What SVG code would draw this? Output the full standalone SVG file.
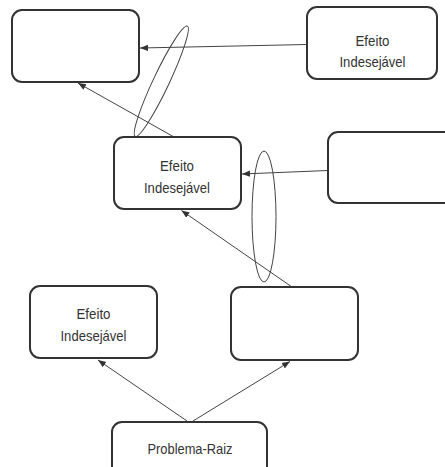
<svg xmlns="http://www.w3.org/2000/svg" width="445" height="467" viewBox="0 0 445 467">
  <style>
    .box { fill: #fff; stroke: #333; stroke-width: 2; }
    .lbl { font-family: "Liberation Sans", Arial, sans-serif; font-size: 14.5px; fill: #333; text-anchor: middle; }
    .edge { fill: none; stroke: #444; stroke-width: 1; }
    .and { fill: none; stroke: #444; stroke-width: 1; }
  </style>
  <defs>
    <marker id="arrow" markerUnits="userSpaceOnUse" markerWidth="8" markerHeight="8" viewBox="0 0 8 8" refX="8" refY="4" orient="auto">
      <path d="M0,0.8 L8,4 L0,7.2 Z" fill="#333"/>
    </marker>
  </defs>

  <rect width="445" height="467" fill="#fff"/>

  <!-- connectors -->
  <g id="connectors">
    <path class="edge" d="M307,44.5 L140,48" marker-end="url(#arrow)"/>
    <path class="edge" d="M174,137 L78,83" marker-end="url(#arrow)"/>
    <path class="edge" d="M328,170.5 L242,174" marker-end="url(#arrow)"/>
    <path class="edge" d="M292,287 L181.5,210.5" marker-end="url(#arrow)"/>
    <path class="edge" d="M187,421 L98,360" marker-end="url(#arrow)"/>
    <path class="edge" d="M193,421 L290,361.5" marker-end="url(#arrow)"/>
  </g>

  <!-- AND groupings -->
  <g id="and-groups">
    <ellipse class="and" cx="0" cy="0" rx="61" ry="8" transform="translate(161.3,81.3) rotate(-64.7)"/>
    <ellipse class="and" cx="264" cy="216.5" rx="12" ry="65.5"/>
  </g>

  <!-- nodes -->
  <g id="node-top-left">
    <rect class="box" x="12" y="10" width="127" height="72" rx="10"/>
  </g>
  <g id="node-top-right">
    <rect class="box" x="307" y="7" width="130" height="72" rx="10"/>
    <text class="lbl" x="372.5" y="45.5" textLength="34" lengthAdjust="spacingAndGlyphs">Efeito</text>
    <text class="lbl" x="372.5" y="66.5" textLength="66" lengthAdjust="spacingAndGlyphs">Indesejável</text>
  </g>
  <g id="node-middle">
    <rect class="box" x="114" y="137" width="127" height="72" rx="10"/>
    <text class="lbl" x="177" y="171" textLength="34" lengthAdjust="spacingAndGlyphs">Efeito</text>
    <text class="lbl" x="177" y="192.5" textLength="66" lengthAdjust="spacingAndGlyphs">Indesejável</text>
  </g>
  <g id="node-middle-right">
    <rect class="box" x="328" y="132" width="130" height="71" rx="10"/>
  </g>
  <g id="node-lower-left">
    <rect class="box" x="30" y="286" width="127" height="72" rx="10"/>
    <text class="lbl" x="93.5" y="318.5" textLength="34" lengthAdjust="spacingAndGlyphs">Efeito</text>
    <text class="lbl" x="93.5" y="340.5" textLength="66" lengthAdjust="spacingAndGlyphs">Indesejável</text>
  </g>
  <g id="node-lower-right">
    <rect class="box" x="231" y="287" width="127" height="73" rx="10"/>
  </g>
  <g id="node-root">
    <rect class="box" x="112" y="422" width="155" height="72" rx="10"/>
    <text class="lbl" x="190" y="453.5" textLength="85" lengthAdjust="spacingAndGlyphs">Problema-Raiz</text>
  </g>
</svg>
